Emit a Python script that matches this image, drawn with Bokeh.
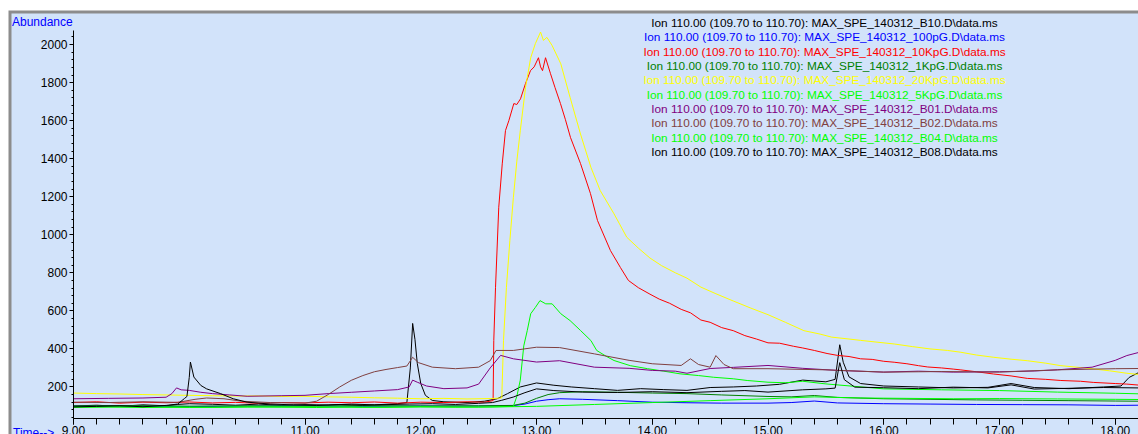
from bokeh.plotting import figure
from bokeh.models import Range1d, SingleIntervalTicker, NumeralTickFormatter, Label, BoxAnnotation
from bokeh.embed import file_html
from bokeh.resources import INLINE

# ---------------- data ----------------
t_b10 = [9.0, 9.2, 9.4, 9.6, 9.8, 9.9, 10.0, 10.2, 10.4, 10.6, 10.8, 11.0, 11.2, 11.4, 11.6, 11.8, 11.88, 11.91,
         11.93, 11.95, 11.97, 12.0, 12.04, 12.1, 12.2, 12.4, 12.55, 12.66, 12.75, 12.86, 13.0, 13.15, 13.3, 13.5,
         13.7, 13.9, 14.1, 14.3, 14.5, 14.7, 14.9, 15.1, 15.3, 15.5, 15.58, 15.62, 15.65, 15.7, 15.8, 16.0, 16.3,
         16.6, 16.9, 17.1, 17.3, 17.6, 17.9, 18.05, 18.12, 18.2]
v_b10 = [100, 104, 98, 106, 101, 108, 112, 109, 104, 110, 103, 107, 105, 110, 106, 112, 118, 300,
         534, 450, 324, 218, 156, 129, 122, 118, 125, 138, 165, 200, 221, 209, 200, 191,
         182, 191, 186, 182, 197, 200, 205, 214, 236, 227, 240, 422, 330, 253, 218, 205, 200,
         195, 198, 218, 197, 191, 200, 205, 250, 275]

t_100 = [9.0, 9.5, 10.0, 10.5, 11.0, 11.5, 12.0, 12.5, 12.8, 12.9, 13.0, 13.1, 13.2, 13.4, 13.7, 14.0, 14.3,
         14.6, 15.0, 15.2, 15.4, 15.6, 16.0, 16.4, 16.8, 17.2, 17.6, 18.0, 18.2]
v_100 = [98, 100, 97, 99, 101, 98, 100, 99, 102, 110, 125, 133, 138, 135, 128, 120, 117,
         115, 115, 118, 126, 116, 112, 110, 108, 107, 106, 103, 104]

t_10k = [9.0, 9.2, 9.4, 9.6, 9.8, 10.0, 10.2, 10.4, 10.6, 10.8, 11.0, 11.2, 11.4, 11.6, 11.8, 12.0, 12.2,
         12.4, 12.55, 12.625, 12.631, 12.646, 12.674, 12.704, 12.732, 12.761, 12.804, 12.83, 12.862, 12.905,
         12.948, 12.98, 13.017, 13.035, 13.052, 13.078, 13.121, 13.16, 13.207, 13.25, 13.294, 13.38, 13.466,
         13.527, 13.639, 13.725, 13.794, 13.88, 13.98, 14.06, 14.15, 14.25, 14.33, 14.42, 14.5, 14.6, 14.7,
         14.8, 14.9, 15.0, 15.1, 15.22, 15.3, 15.4, 15.51, 15.6, 15.7, 15.8, 15.9, 16.0, 16.09, 16.2, 16.3,
         16.38, 16.5, 16.6, 16.66, 16.8, 16.95, 17.1, 17.24, 17.4, 17.53, 17.7, 17.81, 18.0, 18.1, 18.2]
v_10k = [118, 122, 115, 120, 117, 121, 116, 119, 114, 118, 116, 120, 117, 121, 115, 120, 118,
         122, 120, 128, 445, 724, 1145, 1373, 1548, 1600, 1690, 1685, 1715, 1795,
         1863, 1883, 1931, 1883, 1863, 1931, 1847, 1774, 1690, 1605, 1511, 1375, 1217,
         1075, 917, 828, 760, 722, 688, 662, 640, 608, 590, 552, 540, 512, 496,
         470, 452, 432, 430, 414, 405, 392, 376, 366, 360, 348, 345, 335, 330, 322, 312,
         305, 300, 294, 290, 280, 268, 258, 245, 240, 234, 230, 224, 218, 215, 210]

t_1k = [9.0, 9.5, 10.0, 10.5, 11.0, 11.5, 12.0, 12.5, 12.8, 12.9, 13.0, 13.1, 13.2, 13.4, 13.7, 14.0, 14.3,
        14.6, 15.0, 15.2, 15.4, 15.6, 16.0, 16.4, 16.8, 17.2, 17.6, 18.0, 18.2]
v_1k = [100, 102, 99, 101, 100, 102, 100, 101, 103, 115, 140, 160, 170, 175, 172, 168, 165,
        158, 150, 148, 155, 145, 138, 135, 132, 130, 128, 126, 125]

t_20k = [9.0, 9.2, 9.4, 9.6, 9.8, 10.0, 10.2, 10.4, 10.6, 10.8, 11.0, 11.2, 11.4, 11.6, 11.8, 12.0, 12.2,
         12.4, 12.6, 12.70, 12.715, 12.74, 12.77, 12.80, 12.83, 12.86, 12.905, 12.95, 12.99, 13.035, 13.06,
         13.09, 13.135, 13.21, 13.29, 13.38, 13.47, 13.55, 13.67, 13.78, 13.88, 13.98, 14.08, 14.2, 14.3,
         14.42, 14.55, 14.7, 14.85, 15.0, 15.15, 15.31, 15.45, 15.55, 15.7, 15.8, 15.95, 16.09, 16.25, 16.4,
         16.55, 16.66, 16.8, 16.95, 17.1, 17.24, 17.4, 17.53, 17.7, 17.81, 17.95, 18.10, 18.2]
v_20k = [168, 165, 163, 160, 158, 156, 154, 152, 153, 150, 151, 148, 146, 143, 141, 138, 140,
         137, 139, 142, 445, 722, 971, 1195, 1387, 1547, 1774, 1931, 2005, 2066, 2022,
         2038, 1995, 1899, 1723, 1530, 1355, 1233, 1110, 987, 930, 878, 838, 800, 772,
         725, 690, 652, 615, 580, 540, 496, 478, 462, 452, 445, 435, 426, 412, 400,
         392, 383, 368, 356, 346, 338, 325, 312, 302, 295, 285, 272, 266]

t_5k = [9.0, 9.3, 9.6, 9.9, 10.2, 10.5, 10.8, 11.1, 11.4, 11.7, 12.0, 12.3, 12.6, 12.8, 12.83, 12.86, 12.89,
        12.92, 12.95, 12.99, 13.03, 13.08, 13.135, 13.21, 13.29, 13.38, 13.47, 13.52, 13.6, 13.67, 13.81,
        13.96, 14.1, 14.24, 14.4, 14.53, 14.7, 14.82, 15.0, 15.15, 15.3, 15.5, 15.75, 16.0, 16.5, 17.0, 17.5,
        18.0, 18.2]
v_5k = [94, 96, 92, 95, 93, 96, 94, 92, 95, 93, 96, 94, 95, 98, 150, 236, 416,
        496, 585, 618, 654, 637, 637, 585, 549, 497, 444, 392, 362, 339, 312,
        296, 283, 269, 260, 251, 243, 234, 225, 222, 230, 216, 203, 190, 185, 181, 173,
        167, 164]

t_b01 = [9.0, 9.3, 9.6, 9.8, 9.85, 9.89, 9.93, 10.0, 10.1, 10.2, 10.35, 10.5, 10.8, 11.0, 11.2, 11.4, 11.6,
         11.8, 11.9, 11.93, 11.97, 12.05, 12.2, 12.4, 12.5, 12.6, 12.69, 12.8, 13.0, 13.2, 13.5, 13.8, 14.0,
         14.2, 14.3, 14.5, 14.7, 15.0, 15.3, 15.6, 16.0, 16.3, 16.6, 17.0, 17.3, 17.5, 17.8, 18.0, 18.1, 18.2]
v_b01 = [138, 140, 142, 146, 165, 195, 185, 182, 172, 165, 158, 151, 154, 156, 165, 172, 179,
         186, 200, 236, 225, 205, 191, 195, 215, 300, 366, 348, 331, 338, 304, 298, 287,
         283, 272, 297, 303, 313, 298, 287, 278, 283, 278, 280, 284, 290, 304, 340, 365, 381]

t_b02 = [9.0, 9.3, 9.6, 9.9, 10.05, 10.15, 10.3, 10.45, 10.7, 11.0, 11.1, 11.2, 11.3, 11.4, 11.5, 11.6, 11.7,
         11.8, 11.88, 11.93, 11.98, 12.1, 12.3, 12.5, 12.6, 12.65, 12.8, 13.0, 13.2, 13.5, 13.8, 14.0, 14.25,
         14.33, 14.4, 14.5, 14.55, 14.62, 14.7, 15.0, 15.5, 16.0, 16.5, 17.0, 17.5, 18.0, 18.2]
v_b02 = [120, 118, 122, 119, 135, 142, 138, 125, 118, 115, 125, 160, 200, 235, 260, 280, 292,
         302, 310, 356, 328, 304, 296, 304, 338, 392, 392, 409, 407, 374, 340, 322, 313,
         348, 318, 304, 365, 318, 296, 296, 290, 278, 281, 278, 290, 296, 297]

t_b04 = [9.0, 9.5, 10.0, 10.5, 11.0, 11.5, 12.0, 12.5, 13.0, 13.5, 14.0, 14.5, 15.0, 15.4, 15.8, 16.2, 16.6,
         17.0, 17.5, 18.0, 18.2]
v_b04 = [93, 95, 92, 94, 96, 93, 95, 94, 98, 108, 118, 128, 138, 148, 142, 140, 138,
         139, 137, 135, 134]

t_b08 = [9.0, 9.2, 9.4, 9.6, 9.8, 9.9, 9.96, 9.98, 10.0, 10.01, 10.04, 10.1, 10.15, 10.27, 10.38, 10.5, 10.7,
         10.9, 11.1, 11.3, 11.5, 11.7, 11.9, 12.1, 12.3, 12.5, 12.62, 12.7, 12.8, 12.9, 13.0, 13.15, 13.4,
         13.7, 14.0, 14.3, 14.6, 14.8, 15.0, 15.3, 15.5, 15.58, 15.62, 15.66, 15.75, 16.0, 16.3, 16.6, 16.9,
         17.1, 17.3, 17.6, 17.9, 18.2]
v_b08 = [95, 98, 101, 96, 103, 110, 140, 150, 250, 331, 252, 208, 190, 165, 138, 120, 110,
         106, 103, 108, 104, 107, 110, 112, 108, 114, 118, 130, 147, 170, 190, 181, 173,
         171, 175, 170, 177, 181, 173, 185, 190, 194, 328, 238, 199, 196, 191, 199, 195,
         211, 189, 193, 197, 195]

series_names = ["B10", "100pG", "10KpG", "1KpG", "20KpG", "5KpG", "B01", "B02", "B04", "B08"]
series_colors = ["#000000", "#0000FF", "#FF0000", "#008000", "#FFFF00", "#00FF00", "#800080", "#804040",
                 "#00FF00", "#000000"]
series_t = [t_b10, t_100, t_10k, t_1k, t_20k, t_5k, t_b01, t_b02, t_b04, t_b08]
series_v = [v_b10, v_100, v_10k, v_1k, v_20k, v_5k, v_b01, v_b02, v_b04, v_b08]
legend_prefix = "Ion 110.00 (109.70 to 110.70): MAX_SPE_140312_"

# ---------------- layout helpers (pixel geometry of the original) ----------------
BG = "#D2E3FA"
FONT = "Liberation Sans"
PX_PER_MIN = 115.75      # px per minute, 9.00 at x=73
PX_PER_CNT = 0.1902      # px per count, 0 at y=424.5


def tx(px):
    return 9.0 + (px - 73) / PX_PER_MIN


def vy(py):
    return (424.5 - py) / PX_PER_CNT


p = figure(width=1138, height=434, x_range=Range1d(tx(8), tx(1138)), y_range=Range1d(vy(434), vy(10)),
           output_backend="svg", toolbar_location=None,
           min_border_left=8, min_border_right=0, min_border_top=10, min_border_bottom=0,
           background_fill_color="#8C8C8C", border_fill_color="#FFFFFF", outline_line_color=None)
p.grid.visible = False

# light-blue panel inside the grey frame edge
p.add_layout(BoxAnnotation(left=tx(11), top=vy(13), fill_color=BG, fill_alpha=1.0,
                           line_color=None, level="underlay"))

for t, v, c in zip(series_t, series_v, series_colors):
    p.line(t, v, line_color=c, line_width=1)

# x axis (drawn inside the panel)
xa = p.xaxis[0]
xa.fixed_location = vy(418)
xa.bounds = (9.0, tx(1138))
xa.ticker = SingleIntervalTicker(interval=1, num_minor_ticks=5)
xa.formatter = NumeralTickFormatter(format="0.00")
xa.major_tick_out = 6
xa.major_tick_in = 0
xa.minor_tick_out = 6
xa.minor_tick_in = 0
xa.major_label_standoff = 1
xa.major_label_text_font = FONT
xa.major_label_text_font_size = "12px"
xa.major_label_text_color = "#000000"
xa.axis_line_color = "#000000"
xa.major_tick_line_color = "#000000"
xa.minor_tick_line_color = "#000000"

# y axis
ya = p.yaxis[0]
ya.fixed_location = 9.0
ya.ticker = SingleIntervalTicker(interval=200, num_minor_ticks=5)
ya.bounds = (vy(418), vy(30))
ya.major_tick_out = 4
ya.major_tick_in = 0
ya.minor_tick_out = 2
ya.minor_tick_in = 0
ya.major_label_standoff = 2
ya.major_label_text_font = FONT
ya.major_label_text_font_size = "12px"
ya.major_label_text_color = "#000000"
ya.axis_line_color = "#000000"

# "Abundance" and "Time-->"
p.add_layout(Label(x=tx(11.5), y=vy(21), text="Abundance", text_font=FONT, text_font_size="12px",
                   text_color="#0000FF", text_align="left", text_baseline="middle"))
p.add_layout(Label(x=tx(12.5), y=vy(432.5), text="Time-->", text_font=FONT, text_font_size="12px",
                   text_color="#0000FF", text_align="left", text_baseline="middle"))

# legend lines (centered text in series colours)
for i, (name, c) in enumerate(zip(series_names, series_colors)):
    p.add_layout(Label(x=tx(824), y=vy(22.5 + 14.35 * i), text=legend_prefix + name + ".D\\data.ms",
                       text_font=FONT, text_font_size="11.8px", text_color=c,
                       text_align="center", text_baseline="middle"))

open("out.html", "w").write(file_html(p, INLINE))
